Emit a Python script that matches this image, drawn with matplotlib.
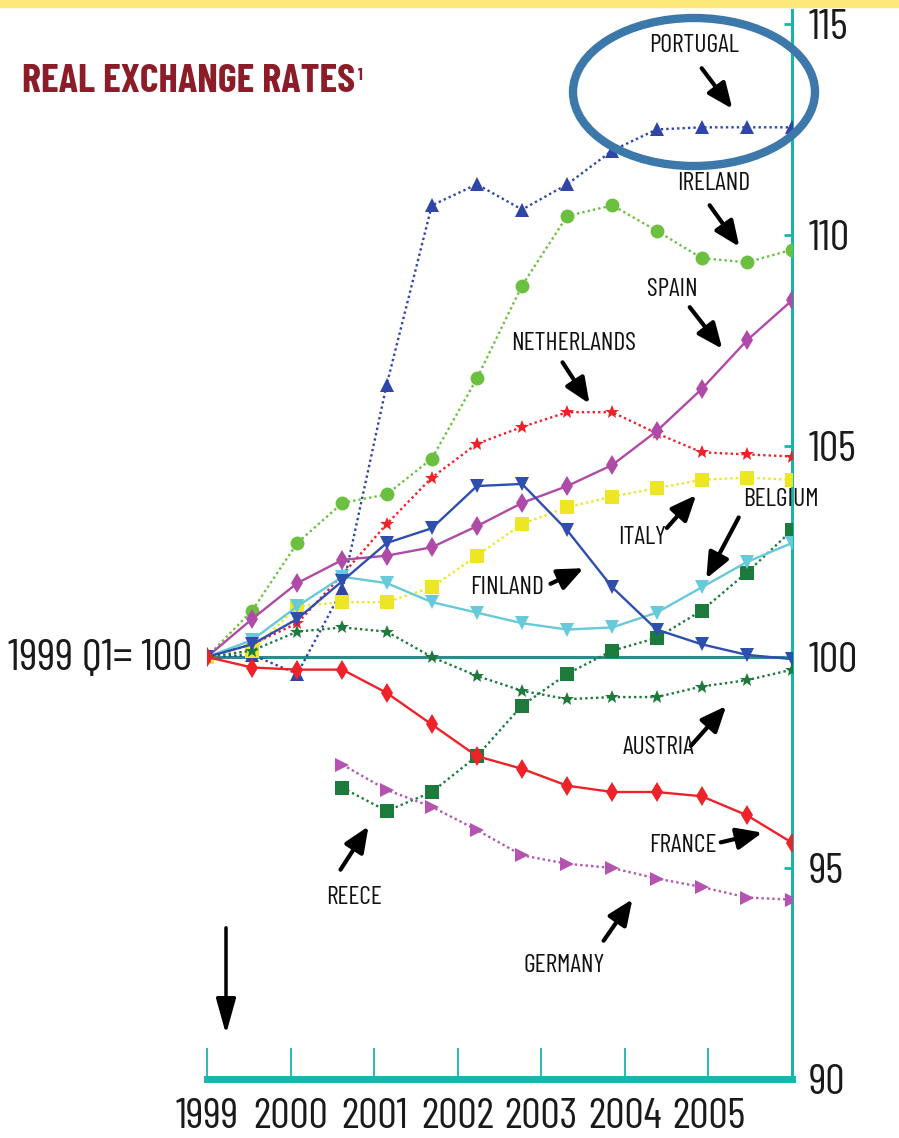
import matplotlib.pyplot as plt
from matplotlib.patches import Ellipse, Rectangle

plt.rcParams['font.family'] = ['Barlow Condensed', 'Roboto Condensed', 'DejaVu Sans']

# half-yearly observation points, 1999 Q1 = 100
periods = [1999.0, 1999.54, 2000.08, 2000.62, 2001.15, 2001.69, 2002.23,
           2002.77, 2003.31, 2003.85, 2004.38, 2004.92, 2005.46, 2006.0]

portugal = [100.0, 100.05, 99.6, 101.6, 106.45, 110.7, 111.2, 110.6, 111.2,
            112.0, 112.5, 112.55, 112.55, 112.55]
ireland = [100.0, 101.1, 102.7, 103.65, 103.85, 104.7, 106.6, 108.8, 110.45,
           110.7, 110.1, 109.45, 109.35, 109.65]
spain = [100.0, 100.9, 101.75, 102.3, 102.4, 102.6, 103.1, 103.65, 104.05,
         104.55, 105.35, 106.35, 107.5, 108.45]
netherlands = [100.0, 100.3, 100.8, 101.95, 103.15, 104.25, 105.05, 105.45,
               105.8, 105.8, 105.3, 104.85, 104.8, 104.75]
italy = [100.0, 100.15, 101.2, 101.3, 101.3, 101.65, 102.4, 103.15, 103.55,
         103.8, 104.0, 104.2, 104.25, 104.2]
finland = [100.0, 100.3, 100.9, 101.8, 102.7, 103.05, 104.05, 104.1, 103.0,
           101.65, 100.65, 100.3, 100.05, 99.95]
belgium = [100.0, 100.4, 101.2, 101.9, 101.75, 101.3, 101.05, 100.8, 100.65,
           100.7, 101.05, 101.65, 102.25, 102.7]
austria = [100.0, 100.15, 100.6, 100.7, 100.6, 100.0, 99.55, 99.2, 99.0,
           99.05, 99.05, 99.3, 99.45, 99.7]
france = [100.0, 99.75, 99.7, 99.7, 99.15, 98.4, 97.65, 97.35, 96.95, 96.8,
          96.8, 96.7, 96.25, 95.6]
greece = [96.9, 96.35, 96.8, 97.65, 98.85, 99.6, 100.15, 100.45, 101.1,
          102.0, 103.0]
germany = [97.45, 96.85, 96.45, 95.9, 95.3, 95.1, 95.0, 94.75, 94.55, 94.3,
           94.25]

year_ticks = [1999, 2000, 2001, 2002, 2003, 2004, 2005]
value_ticks = [90, 95, 100, 105, 110, 115]

W, H = 899, 1138
fig = plt.figure(figsize=(W / 100, H / 100), dpi=100)


def fxy(px, py):
    return (px / W, 1 - py / H)


ax = fig.add_axes([207 / W, 1 - 1079 / H, 585 / W, 1069 / H])
ax.set_xlim(1999, 2006)
ax.set_ylim(90, 115.33)

teal = '#1db3ad'
dot = (0, (1, 1.3))
ax.axhline(100, color='#2b8c8a', lw=2.2, zorder=1)

series = [
    (portugal, periods, '#2f45a8', dot, '^'),
    (ireland, periods, '#6cc040', dot, 'o'),
    (netherlands, periods, '#ee2228', dot, '*'),
    (italy, periods, '#ece624', dot, 's'),
    (austria, periods, '#1b7a3c', dot, '*'),
    (greece, periods[3:], '#1b7a3c', dot, 's'),
    (germany, periods[3:], '#b453b0', dot, '>'),
    (spain, periods, '#b04aa8', '-', 'd'),
    (belgium, periods, '#66cad8', '-', 'v'),
    (finland, periods, '#2f4fae', '-', 'v'),
    (france, periods, '#ee2228', '-', 'd'),
]
for vals, xs, col, ls, mk in series:
    ax.plot(xs, vals, color=col, ls=ls, lw=1.7, marker=mk, ms=10,
            markeredgewidth=0, zorder=3)

for s in ['left', 'top']:
    ax.spines[s].set_visible(False)
ax.spines['right'].set_color(teal)
ax.spines['right'].set_linewidth(2.2)
ax.spines['bottom'].set_color(teal)
ax.spines['bottom'].set_linewidth(5)

ax.set_xticks(year_ticks)
ax.set_xticklabels([str(y) for y in year_ticks])
ax.set_yticks(value_ticks)
ax.yaxis.tick_right()
ax.tick_params(axis='x', direction='in', length=22, width=1.3, color=teal,
               pad=14, labelsize=31, labelcolor='#1a1a1a')
ax.tick_params(axis='y', direction='in', length=6, width=2, color=teal,
               pad=12, labelsize=31, labelcolor='#1a1a1a')

# top band and title
fig.patches.append(Rectangle((0, 1 - 7 / H), 1, 7 / H, transform=fig.transFigure,
                             color='#fde97a', zorder=0))
title = fig.text(*fxy(22, 81), 'REAL EXCHANGE RATES', fontsize=29,
                 fontweight='bold', color='#8c1c28', va='center', ha='left')
ax.annotate('1', xy=(1, 1), xycoords=title, xytext=(2, -3),
            textcoords='offset points', fontsize=12, fontweight='bold',
            color='#8c1c28', va='top', ha='left')
fig.text(*fxy(8, 659), '1999 Q1= 100', fontsize=32, color='#1a1a1a',
         va='center', ha='left')

# country labels with arrows
labels = [
    ('PORTUGAL', (694, 46), (700, 66), (734, 111)),
    ('IRELAND', (714, 184), (708, 203), (741, 249)),
    ('SPAIN', (672, 290), (688, 305), (724, 351)),
    ('NETHERLANDS', (574, 344), (561, 360), (591, 406)),
    ('ITALY', (642, 538), (665, 530), (698, 493)),
    ('BELGIUM', (781, 499), (740, 515), (705, 581)),
    ('FINLAND', (507, 588), (548, 585), (586, 567)),
    ('AUSTRIA', (658, 748), (689, 748), (728, 704)),
    ('FRANCE', (683, 845), (718, 843), (765, 832)),
    ('REECE', (354, 898), (339, 872), (370, 824)),
    ('GERMANY', (564, 966), (602, 943), (634, 897)),
]
for name, lab, tail, head in labels:
    fig.text(*fxy(*lab), name, fontsize=18.5, color='#111111',
             ha='center', va='center')
    ax.annotate('', xy=fxy(*head), xycoords='figure fraction',
                xytext=fxy(*tail), textcoords='figure fraction',
                arrowprops=dict(arrowstyle='-|>,head_length=0.7,head_width=0.3',
                                lw=3, color='black', mutation_scale=22))

ax.annotate('', xy=fxy(226, 1037), xycoords='figure fraction',
            xytext=fxy(226, 925), textcoords='figure fraction',
            arrowprops=dict(arrowstyle='-|>,head_length=0.9,head_width=0.25',
                            lw=2.5, color='black', mutation_scale=24))

fig.patches.append(Ellipse(fxy(694, 92), 242 / W, 148 / H, transform=fig.transFigure,
                           fill=False, edgecolor='#3c78aa', lw=6, zorder=10))

fig.savefig('out.png', dpi=100, facecolor='white')
